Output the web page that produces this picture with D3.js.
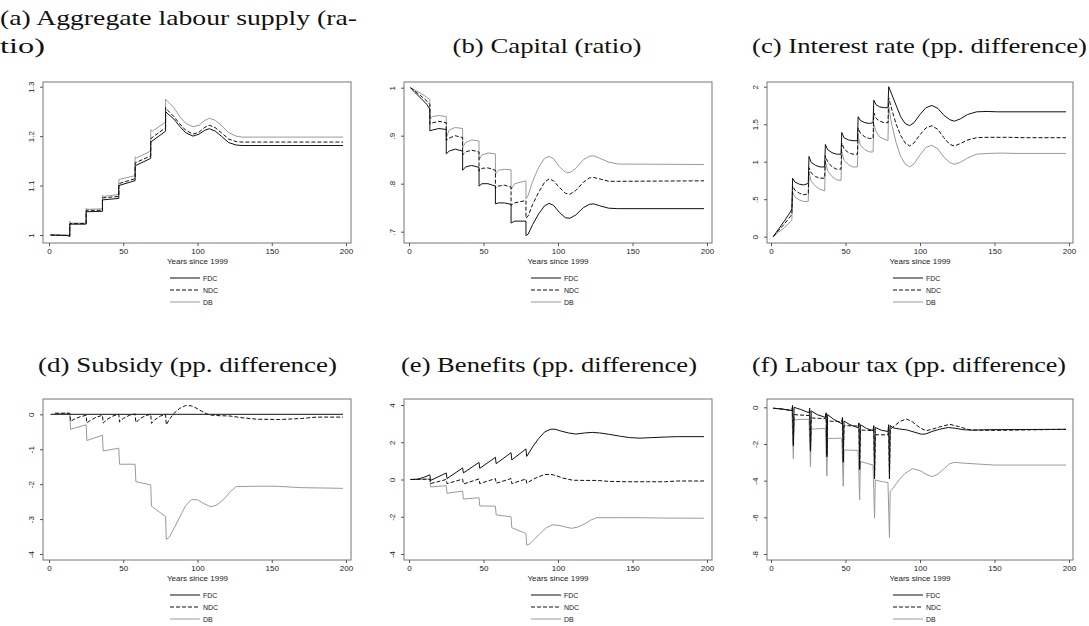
<!DOCTYPE html>
<html>
<head>
<meta charset="utf-8">
<script src="https://cdn.jsdelivr.net/npm/d3@7"></script>
<style>
  body { margin: 0; background: #fff; }
  svg { display: block; }
</style>
</head>
<body>
<div id="graph"></div>
<script>
const W = 1089, H = 626

// series names
const schemes = ['FDC', 'NDC', 'DB']
const xTicks = [0, 50, 100, 150, 200]
const xLabel = 'Years since 1999'

// (a) aggregate labour supply, [year, ratio]
const labourFDC = [[1,1],[12,0.999],[14,0.997],[14,1.022],[25,1.022],[25,1.047],[36,1.048],[36,1.071],[47,1.074],[47,1.1],[58,1.11],[58,1.14],[68.5,1.155],[68.5,1.188],[78.5,1.21],[78.5,1.25],[80,1.245],[84,1.235],[88,1.22],[92,1.207],[97,1.2],[101,1.204],[105,1.212],[108,1.215],[112,1.21],[116,1.2],[121,1.187],[126,1.182],[130,1.181],[198,1.181]]
const labourNDC = [[1,1],[12,0.999],[14,0.998],[14,1.023],[25,1.023],[25,1.05],[36,1.05],[36,1.075],[47,1.078],[47,1.104],[58,1.114],[58,1.146],[68.5,1.16],[68.5,1.195],[78.5,1.217],[78.5,1.258],[80,1.252],[84,1.24],[88,1.225],[92,1.212],[97,1.204],[101,1.208],[105,1.218],[108,1.222],[112,1.217],[116,1.207],[121,1.194],[126,1.189],[130,1.188],[198,1.188]]
const labourDB = [[1,1],[14,1.0],[14,1.028],[15,1.024],[25,1.024],[25,1.054],[26,1.052],[36,1.053],[36,1.08],[37,1.078],[47,1.082],[47,1.112],[48,1.113],[58,1.12],[58,1.158],[59,1.156],[68.5,1.17],[68.5,1.213],[69.5,1.21],[78.5,1.228],[78.5,1.275],[80,1.27],[84,1.258],[88,1.24],[92,1.226],[97,1.219],[101,1.222],[105,1.232],[108,1.236],[112,1.232],[116,1.222],[121,1.207],[126,1.2],[130,1.198],[198,1.198]]
const labourTicks = [1, 1.1, 1.2, 1.3]
const labourTickLabels = ['1', '1.1', '1.2', '1.3']

// (b) capital, [year, ratio]
const capitalFDC = [[1,1],[4,0.99],[8,0.978],[12,0.965],[14,0.955],[14,0.91],[16,0.912],[20,0.915],[25,0.913],[25,0.862],[27,0.868],[31,0.872],[36,0.868],[36,0.828],[38,0.835],[42,0.838],[47,0.834],[47,0.795],[49,0.8],[53,0.8],[58,0.795],[58,0.758],[60,0.76],[64,0.76],[68.5,0.757],[68.5,0.718],[71,0.722],[78.5,0.722],[78.5,0.692],[80,0.695],[83,0.715],[87,0.737],[91,0.754],[94,0.759],[97,0.755],[101,0.74],[105,0.729],[108,0.728],[112,0.735],[117,0.75],[121,0.757],[124,0.758],[128,0.754],[134,0.749],[140,0.748],[198,0.748]]
const capitalNDC = [[1,1],[4,0.993],[8,0.983],[12,0.972],[14,0.965],[14,0.924],[16,0.927],[20,0.93],[25,0.927],[25,0.89],[27,0.895],[31,0.9],[36,0.896],[36,0.86],[38,0.866],[42,0.87],[47,0.866],[47,0.826],[49,0.832],[53,0.833],[58,0.828],[58,0.79],[60,0.795],[64,0.797],[68.5,0.793],[68.5,0.755],[71,0.76],[78.5,0.765],[78.5,0.728],[80,0.733],[83,0.757],[87,0.782],[91,0.803],[94,0.81],[97,0.806],[101,0.792],[105,0.78],[108,0.778],[112,0.786],[117,0.803],[121,0.812],[124,0.813],[128,0.81],[134,0.805],[140,0.805],[198,0.806]]
const capitalDB = [[1,1],[4,0.995],[8,0.988],[12,0.98],[14,0.975],[14,0.935],[16,0.94],[20,0.942],[25,0.94],[25,0.895],[27,0.912],[31,0.917],[36,0.915],[36,0.875],[38,0.886],[42,0.891],[47,0.889],[47,0.85],[49,0.86],[53,0.864],[58,0.862],[58,0.82],[60,0.828],[64,0.83],[68.5,0.829],[68.5,0.788],[71,0.8],[78.5,0.806],[78.5,0.768],[80,0.776],[83,0.805],[87,0.834],[91,0.853],[94,0.857],[97,0.852],[101,0.835],[105,0.824],[108,0.823],[112,0.832],[117,0.85],[121,0.857],[124,0.858],[128,0.853],[134,0.845],[140,0.841],[198,0.84]]
const capitalTicks = [0.7, 0.8, 0.9, 1]
const capitalTickLabels = ['.7', '.8', '.9', '1']

// (c) interest rate, [year, pp]
const rateFDC = [[1.5,0],[5,0.1],[9,0.21],[13,0.33],[14,0.37],[14.5,0.78],[16,0.73],[19,0.7],[22,0.69],[25,0.71],[25.5,1.07],[27,0.99],[30,0.95],[33,0.93],[36,0.93],[36.5,1.23],[38,1.16],[41,1.12],[44,1.1],[47,1.1],[47.5,1.39],[49,1.32],[52,1.29],[55,1.28],[58,1.28],[58.5,1.6],[60,1.55],[63,1.52],[66,1.51],[68.5,1.52],[69,1.82],[70.5,1.76],[73,1.73],[76,1.72],[78.5,1.72],[79,2.0],[81,1.9],[84,1.75],[87,1.6],[90,1.51],[93,1.48],[96,1.52],[100,1.63],[104,1.72],[108,1.75],[112,1.71],[116,1.62],[120,1.56],[123,1.54],[127,1.57],[132,1.63],[138,1.665],[145,1.67],[152,1.665],[198,1.665]]
const rateNDC = [[1.5,0],[5,0.08],[9,0.17],[13,0.27],[14,0.3],[14.5,0.68],[16,0.62],[19,0.58],[22,0.56],[25,0.57],[25.5,0.92],[27,0.85],[30,0.8],[33,0.78],[36,0.78],[36.5,1.08],[38,1.0],[41,0.93],[44,0.9],[47,0.9],[47.5,1.25],[49,1.17],[52,1.12],[55,1.1],[58,1.1],[58.5,1.45],[60,1.38],[63,1.33],[66,1.31],[68.5,1.31],[69,1.65],[70.5,1.58],[73,1.54],[76,1.52],[78.5,1.52],[79,1.85],[81,1.7],[84,1.5],[87,1.35],[90,1.25],[93,1.21],[96,1.25],[100,1.36],[104,1.45],[108,1.48],[112,1.43],[116,1.32],[120,1.23],[123,1.21],[127,1.24],[132,1.29],[138,1.32],[145,1.325],[160,1.325],[170,1.32],[198,1.32]]
const rateDB = [[1.5,0],[5,0.06],[9,0.12],[13,0.2],[14,0.22],[14.5,0.6],[16,0.53],[19,0.49],[22,0.47],[25,0.47],[25.5,0.86],[27,0.74],[30,0.67],[33,0.63],[36,0.61],[36.5,1.0],[38,0.88],[41,0.8],[44,0.76],[47,0.75],[47.5,1.13],[49,1.02],[52,0.96],[55,0.93],[58,0.93],[58.5,1.33],[60,1.22],[63,1.16],[66,1.13],[68.5,1.13],[69,1.5],[70.5,1.4],[73,1.33],[76,1.3],[78.5,1.28],[79,1.73],[81,1.5],[84,1.25],[87,1.07],[90,0.97],[93,0.93],[96,0.97],[100,1.09],[104,1.19],[108,1.22],[112,1.17],[116,1.06],[120,0.99],[123,0.965],[127,0.99],[132,1.05],[138,1.1],[145,1.11],[155,1.115],[165,1.11],[198,1.11]]
const rateTicks = [0, 0.5, 1, 1.5, 2]
const rateTickLabels = ['0', '.5', '1', '1.5', '2']

// (d) subsidy, [year, pp]
const subsidyFDC = [[1,0],[198,0]]
const subsidyNDC = [[4,0.03],[14,0.03],[14.5,-0.2],[17,-0.14],[21,-0.07],[25,-0.03],[25.5,-0.25],[28,-0.17],[32,-0.08],[36,-0.03],[36.5,-0.25],[39,-0.15],[43,-0.05],[47,0],[47.5,-0.22],[50,-0.12],[54,-0.03],[58,0.01],[58.5,-0.24],[61,-0.13],[65,-0.04],[68.5,0],[69,-0.26],[71.5,-0.15],[75,-0.05],[78.5,-0.01],[79,-0.3],[81,-0.15],[84,0.02],[88,0.17],[92,0.25],[96,0.24],[100,0.16],[104,0.06],[108,-0.02],[115,-0.04],[122,-0.05],[130,-0.1],[140,-0.14],[155,-0.15],[170,-0.12],[180,-0.08],[198,-0.08]]
const subsidyDB = [[4,0.03],[14,0.03],[14.5,-0.43],[25,-0.3],[25.5,-0.75],[36,-0.6],[36.5,-1.05],[47,-0.97],[47.5,-1.43],[58,-1.43],[58.5,-1.93],[68.5,-2.02],[69,-2.63],[78.5,-2.93],[79,-3.58],[81,-3.52],[84,-3.28],[88,-2.95],[92,-2.62],[96,-2.44],[100,-2.45],[104,-2.55],[109,-2.65],[113,-2.6],[118,-2.42],[122,-2.22],[126,-2.07],[140,-2.06],[153,-2.06],[170,-2.1],[198,-2.12]]
const subsidyTicks = [-4, -3, -2, -1, 0]
const subsidyTickLabels = ['-4', '-3', '-2', '-1', '0']

// (e) benefits, [year, pp]
const benefitFDC = [[1,0],[6,0.02],[10,0.12],[14,0.25],[14.5,-0.05],[25,0.35],[25.5,0.05],[36,0.62],[36.5,0.35],[47,0.92],[47.5,0.6],[58,1.19],[58.5,0.85],[68.5,1.44],[69,1.05],[78.5,1.64],[79,1.24],[83,1.75],[87,2.2],[91,2.55],[95,2.7],[98,2.7],[102,2.6],[107,2.5],[112,2.44],[118,2.5],[123,2.53],[128,2.5],[134,2.43],[142,2.32],[148,2.25],[155,2.22],[163,2.25],[172,2.28],[180,2.3],[198,2.3]]
const benefitNDC = [[1,0],[14,0.02],[14.5,-0.22],[25,0.0],[25.5,-0.22],[36,0.02],[36.5,-0.24],[47,0.03],[47.5,-0.22],[58,0.05],[58.5,-0.2],[68.5,0.05],[69,-0.22],[78.5,0.03],[79,-0.2],[83,0],[87,0.15],[91,0.26],[95,0.28],[99,0.2],[104,0.06],[110,-0.04],[118,-0.05],[126,-0.05],[134,-0.1],[145,-0.12],[160,-0.12],[172,-0.12],[180,-0.08],[198,-0.08]]
const benefitDB = [[1,0],[14,0.02],[14.5,-0.4],[25,-0.33],[25.5,-0.74],[36,-0.62],[36.5,-1.05],[47,-0.98],[47.5,-1.42],[58,-1.43],[58.5,-1.9],[68.5,-2.0],[69,-2.59],[78.5,-2.9],[79,-3.52],[81,-3.46],[84,-3.22],[88,-2.9],[92,-2.6],[96,-2.44],[100,-2.45],[104,-2.53],[109,-2.62],[113,-2.56],[118,-2.38],[122,-2.18],[126,-2.05],[140,-2.05],[153,-2.05],[170,-2.07],[198,-2.08]]
const benefitTicks = [-4, -2, 0, 2, 4]
const benefitTickLabels = ['-4', '-2', '0', '2', '4']

// (f) labour tax, [year, pp]
const taxFDC = [[1.5,-0.05],[8,-0.1],[14,-0.18],[14.5,0.1],[15,-2.1],[15.5,0.0],[20,-0.12],[25.5,-0.3],[26,-0.05],[26.5,-2.4],[27,-0.2],[31,-0.4],[36.5,-0.55],[37,-0.3],[37.5,-2.7],[38,-0.4],[42,-0.65],[47.5,-0.9],[48,-0.55],[48.5,-3.0],[49,-0.75],[53,-0.95],[58.5,-1.12],[59,-0.85],[59.5,-3.4],[60,-0.95],[64,-1.15],[68.5,-1.27],[69,-1.0],[69.5,-3.9],[70,-1.1],[74,-1.25],[78.5,-1.32],[79,-0.95],[79.5,-3.9],[80,-1.0],[82,-1.12],[86,-1.18],[91,-1.23],[96,-1.35],[101,-1.47],[104,-1.45],[108,-1.32],[113,-1.2],[119,-1.1],[124,-1.15],[129,-1.22],[135,-1.25],[145,-1.22],[198,-1.2]]
const taxNDC = [[1.5,-0.05],[8,-0.1],[14,-0.18],[14.5,0.05],[15,-2.0],[15.5,-0.4],[25.5,-0.45],[26,-0.2],[26.5,-2.3],[27,-0.58],[36.5,-0.62],[37,-0.35],[37.5,-2.6],[38,-0.75],[47.5,-0.78],[48,-0.6],[48.5,-2.9],[49,-1.0],[58.5,-1.02],[59,-0.9],[59.5,-3.3],[60,-1.24],[68.5,-1.27],[69,-1.05],[69.5,-3.8],[70,-1.5],[78.5,-1.5],[79,-1.0],[79.5,-3.9],[80,-1.2],[83,-1.0],[87,-0.75],[91,-0.64],[95,-0.8],[100,-1.12],[104,-1.28],[108,-1.2],[114,-1.05],[120,-0.93],[126,-1.05],[133,-1.22],[140,-1.25],[150,-1.26],[165,-1.24],[198,-1.2]]
const taxDB = [[1.5,-0.05],[8,-0.1],[14,-0.18],[15,-2.8],[15.5,-0.69],[20,-0.66],[25.5,-0.65],[26.5,-3.25],[27,-1.2],[31,-1.17],[36.5,-1.15],[37.5,-3.75],[38,-1.69],[42,-1.7],[47.5,-1.68],[48.5,-4.3],[49,-2.33],[53,-2.34],[58.5,-2.35],[59.5,-5.05],[60,-2.96],[64,-3.05],[68.5,-3.15],[69.5,-6.05],[70,-3.96],[74,-4.05],[78.5,-4.1],[79.5,-7.1],[80,-4.6],[82,-4.4],[86,-3.95],[90,-3.6],[95,-3.35],[100,-3.45],[104,-3.65],[108,-3.78],[112,-3.65],[116,-3.35],[120,-3.08],[123,-3.0],[130,-3.05],[140,-3.1],[150,-3.15],[198,-3.15]]
const taxTicks = [-8, -6, -4, -2, 0]
const taxTickLabels = ['-8', '-6', '-4', '-2', '0']

// layout of the 3x2 grid (pixels)
const cols = [
  {box: [43, 351], x: [49, 346]},
  {box: [404, 712], x: [409, 707]},
  {box: [767, 1073], x: [771, 1069]}
]
const rows = [
  {box: [82, 243], title: 53},
  {box: [399, 560], title: 372}
]

// titles: text, centre (or left edge), width
const panels = [
  {title: [['(a) Aggregate labour supply (ra-', 0, 357], ['tio)', 0, 45]], col: 0, row: 0, data: [labourFDC, labourNDC, labourDB], ticks: labourTicks, labels: labourTickLabels, yRange: [235, 86.7]},
  {title: [['(b) Capital (ratio)', 547, 189]], col: 1, row: 0, data: [capitalFDC, capitalNDC, capitalDB], ticks: capitalTicks, labels: capitalTickLabels, yRange: [231.7, 87.7]},
  {title: [['(c) Interest rate (pp. difference)', 919.5, 335]], col: 2, row: 0, data: [rateFDC, rateNDC, rateDB], ticks: rateTicks, labels: rateTickLabels, yRange: [236.7, 86.7]},
  {title: [['(d) Subsidy (pp. difference)', 187.5, 299]], col: 0, row: 1, data: [subsidyFDC, subsidyNDC, subsidyDB], ticks: subsidyTicks, labels: subsidyTickLabels, yRange: [554, 414.3]},
  {title: [['(e) Benefits (pp. difference)', 549, 296]], col: 1, row: 1, data: [benefitFDC, benefitNDC, benefitDB], ticks: benefitTicks, labels: benefitTickLabels, yRange: [554, 405]},
  {title: [['(f) Labour tax (pp. difference)', 909, 314]], col: 2, row: 1, data: [taxFDC, taxNDC, taxDB], ticks: taxTicks, labels: taxTickLabels, yRange: [554, 407.3]}
]

const styles = [
  {stroke: '#111', dash: null, width: 1},
  {stroke: '#111', dash: '4,2', width: 1},
  {stroke: '#9a9a9a', dash: null, width: 1}
]

const svg = d3.select('#graph')
  .append('svg')
  .attr('width', W)
  .attr('height', H)

svg.append('rect')
  .attr('width', W)
  .attr('height', H)
  .attr('fill', '#fff')

const drawPanel = (p) => {
  const c = cols[p.col]
  const r = rows[p.row]
  const g = svg.append('g')

  const x = d3.scaleLinear().domain([0, 200]).range(c.x)
  const y = d3.scaleLinear().domain(d3.extent(p.ticks)).range(p.yRange)

  // title (the two-line one hangs from the left edge)
  const multi = p.title.length > 1
  p.title.forEach(([t, pos, len], i) => {
    g.append('text')
      .attr('x', pos)
      .attr('y', r.title - 28 * (p.title.length - 1 - i))
      .attr('text-anchor', multi ? 'start' : 'middle')
      .attr('font-family', '"Liberation Serif", "Times New Roman", serif')
      .attr('font-size', 22)
      .attr('fill', '#111')
      .attr('textLength', len)
      .attr('lengthAdjust', 'spacingAndGlyphs')
      .text(t)
  })

  // plot box
  g.append('rect')
    .attr('x', c.box[0])
    .attr('y', r.box[0])
    .attr('width', c.box[1] - c.box[0])
    .attr('height', r.box[1] - r.box[0])
    .attr('fill', 'none')
    .attr('stroke', '#777')
    .attr('stroke-width', 1)

  // x axis
  const xAxis = g.append('g')
    .attr('transform', `translate(0,${r.box[1]})`)
    .call(d3.axisBottom(x).tickValues(xTicks).tickSize(3).tickPadding(2).tickFormat(d3.format('d')))
  xAxis.select('.domain').remove()
  xAxis.selectAll('line').attr('stroke', '#555')
  xAxis.selectAll('text')
    .attr('font-family', '"Liberation Sans", Arial, sans-serif')
    .attr('font-size', 8)
    .attr('fill', '#222')

  g.append('text')
    .attr('x', x(100))
    .attr('y', r.box[1] + 21)
    .attr('text-anchor', 'middle')
    .attr('font-family', '"Liberation Sans", Arial, sans-serif')
    .attr('font-size', 8)
    .attr('fill', '#222')
    .text(xLabel)

  // y axis, labels turned like Stata
  const yAxis = g.append('g')
    .attr('transform', `translate(${c.box[0]},0)`)
    .call(d3.axisLeft(y).tickValues(p.ticks).tickSize(3).tickFormat((d, i) => p.labels[i]))
  yAxis.select('.domain').remove()
  yAxis.selectAll('line').attr('stroke', '#555')
  yAxis.selectAll('text')
    .attr('x', null)
    .attr('dy', null)
    .attr('text-anchor', 'middle')
    .attr('transform', 'translate(-9,0) rotate(-90)')
    .attr('font-family', '"Liberation Sans", Arial, sans-serif')
    .attr('font-size', 8)
    .attr('fill', '#222')

  // lines
  const line = d3.line()
    .x(d => x(d[0]))
    .y(d => y(d[1]))

  // draw DB first so black lines sit on top
  ;[2, 1, 0].forEach(i => {
    g.append('path')
      .datum(p.data[i])
      .attr('d', line)
      .attr('fill', 'none')
      .attr('stroke', styles[i].stroke)
      .attr('stroke-width', styles[i].width)
      .attr('stroke-dasharray', styles[i].dash)
      .attr('stroke-linejoin', 'round')
  })

  // legend
  const mid = (c.box[0] + c.box[1]) / 2
  schemes.forEach((s, i) => {
    const ly = r.box[1] + 35 + i * 12
    g.append('line')
      .attr('x1', mid - 27)
      .attr('x2', mid + 3)
      .attr('y1', ly)
      .attr('y2', ly)
      .attr('stroke', styles[i].stroke)
      .attr('stroke-width', styles[i].width)
      .attr('stroke-dasharray', styles[i].dash)
    g.append('text')
      .attr('x', mid + 6)
      .attr('y', ly + 2.5)
      .attr('font-family', '"Liberation Sans", Arial, sans-serif')
      .attr('font-size', 7)
      .attr('fill', '#222')
      .text(s)
  })
}

panels.forEach(drawPanel)
</script>
</body>
</html>
